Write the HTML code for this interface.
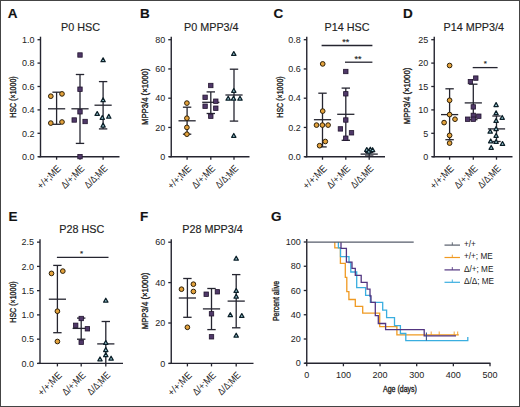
<!DOCTYPE html>
<html><head><meta charset="utf-8"><style>
html,body{margin:0;padding:0;background:#fff;width:520px;height:407px;overflow:hidden;position:relative}
.frame{position:absolute;left:0;top:0;width:518px;height:405px;border:1px solid #444}
</style></head><body>
<svg width="520" height="407" viewBox="0 0 520 407" font-family='"Liberation Sans", sans-serif' style="position:absolute;left:0;top:0"><style>text{stroke:#222;stroke-width:0.15px} text.n{stroke:none} text.yl{stroke-width:0.35px}</style><rect x="0" y="0" width="520" height="407" fill="#fff"/><text x="7.8" y="18.2" font-size="13.5" text-anchor="start" font-weight="bold" fill="#111" >A</text><text x="80.5" y="30.6" font-size="10.8" text-anchor="middle" font-weight="normal" fill="#222" >P0 HSC</text><text class="yl" x="0" y="0" font-size="8.6" text-anchor="middle" fill="#222" transform="translate(16,97) rotate(-90) scale(0.82,1)">HSC (&#215;1000)</text><line x1="40.5" y1="36.69999999999999" x2="40.5" y2="157.2" stroke="#252530" stroke-width="1.4"/><line x1="37.5" y1="156.7" x2="40.5" y2="156.7" stroke="#252530" stroke-width="1.3"/><text x="34.5" y="159.89999999999998" font-size="9" text-anchor="end" font-weight="normal" fill="#222" class="n">0.0</text><line x1="37.5" y1="133.29999999999998" x2="40.5" y2="133.29999999999998" stroke="#252530" stroke-width="1.3"/><text x="34.5" y="136.49999999999997" font-size="9" text-anchor="end" font-weight="normal" fill="#222" class="n">0.2</text><line x1="37.5" y1="109.89999999999999" x2="40.5" y2="109.89999999999999" stroke="#252530" stroke-width="1.3"/><text x="34.5" y="113.1" font-size="9" text-anchor="end" font-weight="normal" fill="#222" class="n">0.4</text><line x1="37.5" y1="86.5" x2="40.5" y2="86.5" stroke="#252530" stroke-width="1.3"/><text x="34.5" y="89.7" font-size="9" text-anchor="end" font-weight="normal" fill="#222" class="n">0.6</text><line x1="37.5" y1="63.099999999999994" x2="40.5" y2="63.099999999999994" stroke="#252530" stroke-width="1.3"/><text x="34.5" y="66.3" font-size="9" text-anchor="end" font-weight="normal" fill="#222" class="n">0.8</text><line x1="37.5" y1="39.69999999999999" x2="40.5" y2="39.69999999999999" stroke="#252530" stroke-width="1.3"/><text x="34.5" y="42.89999999999999" font-size="9" text-anchor="end" font-weight="normal" fill="#222" class="n">1.0</text><line x1="38.5" y1="156.7" x2="119.5" y2="156.7" stroke="#252530" stroke-width="1.4"/><line x1="56.6" y1="156.7" x2="56.6" y2="159.7" stroke="#252530" stroke-width="1.3"/><text class="n" x="0" y="0" font-size="10" text-anchor="end" fill="#222" textLength="29.2" lengthAdjust="spacingAndGlyphs" transform="translate(61.6,169.2) rotate(-45)">+/+;ME</text><line x1="80" y1="156.7" x2="80" y2="159.7" stroke="#252530" stroke-width="1.3"/><text class="n" x="0" y="0" font-size="10" text-anchor="end" fill="#222" textLength="28.4" lengthAdjust="spacingAndGlyphs" transform="translate(85,169.2) rotate(-45)">&#916;/+;ME</text><line x1="103.1" y1="156.7" x2="103.1" y2="159.7" stroke="#252530" stroke-width="1.3"/><text class="n" x="0" y="0" font-size="10" text-anchor="end" fill="#222" textLength="28.0" lengthAdjust="spacingAndGlyphs" transform="translate(108.1,169.2) rotate(-45)">&#916;/&#916;;ME</text><line x1="56.6" y1="92.2" x2="56.6" y2="124.3" stroke="#252530" stroke-width="1.3"/><line x1="52.4" y1="92.2" x2="60.800000000000004" y2="92.2" stroke="#252530" stroke-width="1.3"/><line x1="52.4" y1="124.3" x2="60.800000000000004" y2="124.3" stroke="#252530" stroke-width="1.3"/><line x1="48.0" y1="108.8" x2="65.2" y2="108.8" stroke="#252530" stroke-width="1.3"/><circle cx="50.8" cy="96.2" r="2.35" fill="#e3a23c" stroke="#2e2008" stroke-width="1.0"/><circle cx="62" cy="93.9" r="2.35" fill="#e3a23c" stroke="#2e2008" stroke-width="1.0"/><circle cx="50.8" cy="123.1" r="2.35" fill="#e3a23c" stroke="#2e2008" stroke-width="1.0"/><circle cx="62" cy="122" r="2.35" fill="#e3a23c" stroke="#2e2008" stroke-width="1.0"/><line x1="80" y1="74.5" x2="80" y2="143.4" stroke="#252530" stroke-width="1.3"/><line x1="75.8" y1="74.5" x2="84.2" y2="74.5" stroke="#252530" stroke-width="1.3"/><line x1="75.8" y1="143.4" x2="84.2" y2="143.4" stroke="#252530" stroke-width="1.3"/><line x1="71.4" y1="108.8" x2="88.6" y2="108.8" stroke="#252530" stroke-width="1.3"/><rect x="77.8" y="52.8" width="4.4" height="4.4" fill="#4f3868" stroke="#22142f" stroke-width="0.8"/><rect x="77.8" y="87.0" width="4.4" height="4.4" fill="#4f3868" stroke="#22142f" stroke-width="0.8"/><rect x="77.8" y="109.6" width="4.4" height="4.4" fill="#4f3868" stroke="#22142f" stroke-width="0.8"/><rect x="72.0" y="117.8" width="4.4" height="4.4" fill="#4f3868" stroke="#22142f" stroke-width="0.8"/><rect x="82.89999999999999" y="119.3" width="4.4" height="4.4" fill="#4f3868" stroke="#22142f" stroke-width="0.8"/><rect x="77.8" y="154.4" width="4.4" height="4.4" fill="#4f3868" stroke="#22142f" stroke-width="0.8"/><line x1="103.1" y1="81.6" x2="103.1" y2="128.9" stroke="#252530" stroke-width="1.3"/><line x1="98.89999999999999" y1="81.6" x2="107.3" y2="81.6" stroke="#252530" stroke-width="1.3"/><line x1="98.89999999999999" y1="128.9" x2="107.3" y2="128.9" stroke="#252530" stroke-width="1.3"/><line x1="94.5" y1="105.2" x2="111.69999999999999" y2="105.2" stroke="#252530" stroke-width="1.3"/><path d="M103.1 57.8554L105.25 61.7254L100.94999999999999 61.7254Z" fill="#9fd3df" stroke="#0c1f28" stroke-width="1.25" stroke-linejoin="round"/><path d="M103.1 97.85539999999999L105.25 101.7254L100.94999999999999 101.7254Z" fill="#9fd3df" stroke="#0c1f28" stroke-width="1.25" stroke-linejoin="round"/><path d="M97.2 111.55539999999999L99.35000000000001 115.4254L95.05 115.4254Z" fill="#9fd3df" stroke="#0c1f28" stroke-width="1.25" stroke-linejoin="round"/><path d="M102.3 115.4554L104.45 119.3254L100.14999999999999 119.3254Z" fill="#9fd3df" stroke="#0c1f28" stroke-width="1.25" stroke-linejoin="round"/><path d="M108.8 114.35539999999999L110.95 118.2254L106.64999999999999 118.2254Z" fill="#9fd3df" stroke="#0c1f28" stroke-width="1.25" stroke-linejoin="round"/><path d="M103.1 123.1554L105.25 127.0254L100.94999999999999 127.0254Z" fill="#9fd3df" stroke="#0c1f28" stroke-width="1.25" stroke-linejoin="round"/><text x="140" y="18.2" font-size="13.5" text-anchor="start" font-weight="bold" fill="#111" >B</text><text x="211.3" y="30.6" font-size="10.8" text-anchor="middle" font-weight="normal" fill="#222" >P0 MPP3/4</text><text class="yl" x="0" y="0" font-size="8.6" text-anchor="middle" fill="#222" transform="translate(148,96.8) rotate(-90) scale(0.9,1)">MPP3/4 (&#215;1000)</text><line x1="171.25" y1="36.69999999999999" x2="171.25" y2="157.2" stroke="#252530" stroke-width="1.4"/><line x1="168.25" y1="156.7" x2="171.25" y2="156.7" stroke="#252530" stroke-width="1.3"/><text x="165.25" y="159.89999999999998" font-size="9" text-anchor="end" font-weight="normal" fill="#222" class="n">0</text><line x1="168.25" y1="127.44999999999999" x2="171.25" y2="127.44999999999999" stroke="#252530" stroke-width="1.3"/><text x="165.25" y="130.64999999999998" font-size="9" text-anchor="end" font-weight="normal" fill="#222" class="n">20</text><line x1="168.25" y1="98.19999999999999" x2="171.25" y2="98.19999999999999" stroke="#252530" stroke-width="1.3"/><text x="165.25" y="101.39999999999999" font-size="9" text-anchor="end" font-weight="normal" fill="#222" class="n">40</text><line x1="168.25" y1="68.94999999999999" x2="171.25" y2="68.94999999999999" stroke="#252530" stroke-width="1.3"/><text x="165.25" y="72.14999999999999" font-size="9" text-anchor="end" font-weight="normal" fill="#222" class="n">60</text><line x1="168.25" y1="39.69999999999999" x2="171.25" y2="39.69999999999999" stroke="#252530" stroke-width="1.3"/><text x="165.25" y="42.89999999999999" font-size="9" text-anchor="end" font-weight="normal" fill="#222" class="n">80</text><line x1="169.25" y1="156.7" x2="249.5" y2="156.7" stroke="#252530" stroke-width="1.4"/><line x1="187.1" y1="156.7" x2="187.1" y2="159.7" stroke="#252530" stroke-width="1.3"/><text class="n" x="0" y="0" font-size="10" text-anchor="end" fill="#222" textLength="29.2" lengthAdjust="spacingAndGlyphs" transform="translate(192.1,169.2) rotate(-45)">+/+;ME</text><line x1="210.8" y1="156.7" x2="210.8" y2="159.7" stroke="#252530" stroke-width="1.3"/><text class="n" x="0" y="0" font-size="10" text-anchor="end" fill="#222" textLength="28.4" lengthAdjust="spacingAndGlyphs" transform="translate(215.8,169.2) rotate(-45)">&#916;/+;ME</text><line x1="234" y1="156.7" x2="234" y2="159.7" stroke="#252530" stroke-width="1.3"/><text class="n" x="0" y="0" font-size="10" text-anchor="end" fill="#222" textLength="28.0" lengthAdjust="spacingAndGlyphs" transform="translate(239,169.2) rotate(-45)">&#916;/&#916;;ME</text><line x1="187.1" y1="107.2" x2="187.1" y2="134.2" stroke="#252530" stroke-width="1.3"/><line x1="182.9" y1="107.2" x2="191.29999999999998" y2="107.2" stroke="#252530" stroke-width="1.3"/><line x1="182.9" y1="134.2" x2="191.29999999999998" y2="134.2" stroke="#252530" stroke-width="1.3"/><line x1="178.5" y1="120.8" x2="195.7" y2="120.8" stroke="#252530" stroke-width="1.3"/><circle cx="186.9" cy="103.1" r="2.35" fill="#e3a23c" stroke="#2e2008" stroke-width="1.0"/><circle cx="186.9" cy="118.2" r="2.35" fill="#e3a23c" stroke="#2e2008" stroke-width="1.0"/><circle cx="186.9" cy="127.4" r="2.35" fill="#e3a23c" stroke="#2e2008" stroke-width="1.0"/><circle cx="186.9" cy="134.2" r="2.35" fill="#e3a23c" stroke="#2e2008" stroke-width="1.0"/><line x1="210.8" y1="91.9" x2="210.8" y2="113.5" stroke="#252530" stroke-width="1.3"/><line x1="206.60000000000002" y1="91.9" x2="215.0" y2="91.9" stroke="#252530" stroke-width="1.3"/><line x1="206.60000000000002" y1="113.5" x2="215.0" y2="113.5" stroke="#252530" stroke-width="1.3"/><line x1="202.20000000000002" y1="102.3" x2="219.4" y2="102.3" stroke="#252530" stroke-width="1.3"/><rect x="208.60000000000002" y="83.3" width="4.4" height="4.4" fill="#4f3868" stroke="#22142f" stroke-width="0.8"/><rect x="202.9" y="95.1" width="4.4" height="4.4" fill="#4f3868" stroke="#22142f" stroke-width="0.8"/><rect x="213.60000000000002" y="99.0" width="4.4" height="4.4" fill="#4f3868" stroke="#22142f" stroke-width="0.8"/><rect x="202.9" y="104.0" width="4.4" height="4.4" fill="#4f3868" stroke="#22142f" stroke-width="0.8"/><rect x="213.60000000000002" y="106.0" width="4.4" height="4.4" fill="#4f3868" stroke="#22142f" stroke-width="0.8"/><rect x="208.60000000000002" y="114.0" width="4.4" height="4.4" fill="#4f3868" stroke="#22142f" stroke-width="0.8"/><line x1="234" y1="69.2" x2="234" y2="121.1" stroke="#252530" stroke-width="1.3"/><line x1="229.8" y1="69.2" x2="238.2" y2="69.2" stroke="#252530" stroke-width="1.3"/><line x1="229.8" y1="121.1" x2="238.2" y2="121.1" stroke="#252530" stroke-width="1.3"/><line x1="225.4" y1="95" x2="242.6" y2="95" stroke="#252530" stroke-width="1.3"/><path d="M233.8 51.5554L235.95000000000002 55.425399999999996L231.65 55.425399999999996Z" fill="#9fd3df" stroke="#0c1f28" stroke-width="1.25" stroke-linejoin="round"/><path d="M233.8 88.4554L235.95000000000002 92.3254L231.65 92.3254Z" fill="#9fd3df" stroke="#0c1f28" stroke-width="1.25" stroke-linejoin="round"/><path d="M228.2 96.2554L230.35 100.1254L226.04999999999998 100.1254Z" fill="#9fd3df" stroke="#0c1f28" stroke-width="1.25" stroke-linejoin="round"/><path d="M233.5 96.2554L235.65 100.1254L231.35 100.1254Z" fill="#9fd3df" stroke="#0c1f28" stroke-width="1.25" stroke-linejoin="round"/><path d="M240 96.2554L242.15 100.1254L237.85 100.1254Z" fill="#9fd3df" stroke="#0c1f28" stroke-width="1.25" stroke-linejoin="round"/><path d="M233.8 133.4554L235.95000000000002 137.3254L231.65 137.3254Z" fill="#9fd3df" stroke="#0c1f28" stroke-width="1.25" stroke-linejoin="round"/><text x="273.5" y="18.2" font-size="13.5" text-anchor="start" font-weight="bold" fill="#111" >C</text><text x="347" y="30.6" font-size="10.8" text-anchor="middle" font-weight="normal" fill="#222" >P14 HSC</text><text class="yl" x="0" y="0" font-size="8.6" text-anchor="middle" fill="#222" transform="translate(283.2,97) rotate(-90) scale(0.82,1)">HSC (&#215;1000)</text><line x1="306.75" y1="36.69999999999999" x2="306.75" y2="157.2" stroke="#252530" stroke-width="1.4"/><line x1="303.75" y1="156.7" x2="306.75" y2="156.7" stroke="#252530" stroke-width="1.3"/><text x="300.75" y="159.89999999999998" font-size="9" text-anchor="end" font-weight="normal" fill="#222" class="n">0.0</text><line x1="303.75" y1="127.44999999999999" x2="306.75" y2="127.44999999999999" stroke="#252530" stroke-width="1.3"/><text x="300.75" y="130.64999999999998" font-size="9" text-anchor="end" font-weight="normal" fill="#222" class="n">0.2</text><line x1="303.75" y1="98.19999999999999" x2="306.75" y2="98.19999999999999" stroke="#252530" stroke-width="1.3"/><text x="300.75" y="101.39999999999999" font-size="9" text-anchor="end" font-weight="normal" fill="#222" class="n">0.4</text><line x1="303.75" y1="68.94999999999999" x2="306.75" y2="68.94999999999999" stroke="#252530" stroke-width="1.3"/><text x="300.75" y="72.14999999999999" font-size="9" text-anchor="end" font-weight="normal" fill="#222" class="n">0.6</text><line x1="303.75" y1="39.69999999999999" x2="306.75" y2="39.69999999999999" stroke="#252530" stroke-width="1.3"/><text x="300.75" y="42.89999999999999" font-size="9" text-anchor="end" font-weight="normal" fill="#222" class="n">0.8</text><line x1="304.75" y1="156.7" x2="385" y2="156.7" stroke="#252530" stroke-width="1.4"/><line x1="322.5" y1="156.7" x2="322.5" y2="159.7" stroke="#252530" stroke-width="1.3"/><text class="n" x="0" y="0" font-size="10" text-anchor="end" fill="#222" textLength="29.2" lengthAdjust="spacingAndGlyphs" transform="translate(327.5,169.2) rotate(-45)">+/+;ME</text><line x1="345.8" y1="156.7" x2="345.8" y2="159.7" stroke="#252530" stroke-width="1.3"/><text class="n" x="0" y="0" font-size="10" text-anchor="end" fill="#222" textLength="28.4" lengthAdjust="spacingAndGlyphs" transform="translate(350.8,169.2) rotate(-45)">&#916;/+;ME</text><line x1="369.2" y1="156.7" x2="369.2" y2="159.7" stroke="#252530" stroke-width="1.3"/><text class="n" x="0" y="0" font-size="10" text-anchor="end" fill="#222" textLength="28.0" lengthAdjust="spacingAndGlyphs" transform="translate(374.2,169.2) rotate(-45)">&#916;/&#916;;ME</text><line x1="322.5" y1="93.2" x2="322.5" y2="146.9" stroke="#252530" stroke-width="1.3"/><line x1="318.3" y1="93.2" x2="326.7" y2="93.2" stroke="#252530" stroke-width="1.3"/><line x1="318.3" y1="146.9" x2="326.7" y2="146.9" stroke="#252530" stroke-width="1.3"/><line x1="313.9" y1="119.7" x2="331.1" y2="119.7" stroke="#252530" stroke-width="1.3"/><circle cx="322.7" cy="63.9" r="2.35" fill="#e3a23c" stroke="#2e2008" stroke-width="1.0"/><circle cx="322.7" cy="111.1" r="2.35" fill="#e3a23c" stroke="#2e2008" stroke-width="1.0"/><circle cx="316.5" cy="125.1" r="2.35" fill="#e3a23c" stroke="#2e2008" stroke-width="1.0"/><circle cx="322.4" cy="125.1" r="2.35" fill="#e3a23c" stroke="#2e2008" stroke-width="1.0"/><circle cx="328.1" cy="125.1" r="2.35" fill="#e3a23c" stroke="#2e2008" stroke-width="1.0"/><circle cx="325.3" cy="141.5" r="2.35" fill="#e3a23c" stroke="#2e2008" stroke-width="1.0"/><circle cx="319.6" cy="145.7" r="2.35" fill="#e3a23c" stroke="#2e2008" stroke-width="1.0"/><line x1="345.8" y1="88.1" x2="345.8" y2="140.3" stroke="#252530" stroke-width="1.3"/><line x1="341.6" y1="88.1" x2="350.0" y2="88.1" stroke="#252530" stroke-width="1.3"/><line x1="341.6" y1="140.3" x2="350.0" y2="140.3" stroke="#252530" stroke-width="1.3"/><line x1="337.2" y1="114.3" x2="354.40000000000003" y2="114.3" stroke="#252530" stroke-width="1.3"/><rect x="343.6" y="69.3" width="4.4" height="4.4" fill="#4f3868" stroke="#22142f" stroke-width="0.8"/><rect x="343.6" y="91.6" width="4.4" height="4.4" fill="#4f3868" stroke="#22142f" stroke-width="0.8"/><rect x="343.6" y="117.8" width="4.4" height="4.4" fill="#4f3868" stroke="#22142f" stroke-width="0.8"/><rect x="338.2" y="126.7" width="4.4" height="4.4" fill="#4f3868" stroke="#22142f" stroke-width="0.8"/><rect x="349.3" y="130.60000000000002" width="4.4" height="4.4" fill="#4f3868" stroke="#22142f" stroke-width="0.8"/><rect x="343.6" y="136.0" width="4.4" height="4.4" fill="#4f3868" stroke="#22142f" stroke-width="0.8"/><line x1="369.2" y1="152.5" x2="369.2" y2="156" stroke="#252530" stroke-width="1.3"/><line x1="365.0" y1="152.5" x2="373.4" y2="152.5" stroke="#252530" stroke-width="1.3"/><line x1="365.0" y1="156" x2="373.4" y2="156" stroke="#252530" stroke-width="1.3"/><line x1="360.59999999999997" y1="154.1" x2="377.8" y2="154.1" stroke="#252530" stroke-width="1.3"/><path d="M366.8 147.55540000000002L368.95 151.42540000000002L364.65000000000003 151.42540000000002Z" fill="#9fd3df" stroke="#0c1f28" stroke-width="1.25" stroke-linejoin="round"/><path d="M370.3 147.2554L372.45 151.1254L368.15000000000003 151.1254Z" fill="#9fd3df" stroke="#0c1f28" stroke-width="1.25" stroke-linejoin="round"/><path d="M372.6 147.7554L374.75 151.6254L370.45000000000005 151.6254Z" fill="#9fd3df" stroke="#0c1f28" stroke-width="1.25" stroke-linejoin="round"/><path d="M368.8 149.2554L370.95 153.1254L366.65000000000003 153.1254Z" fill="#9fd3df" stroke="#0c1f28" stroke-width="1.25" stroke-linejoin="round"/><text x="345.8" y="45" font-size="9" text-anchor="middle" font-weight="normal" fill="#222" >**</text><line x1="321.6" y1="45.5" x2="372.4" y2="45.5" stroke="#252530" stroke-width="1.3"/><text x="358.1" y="61.8" font-size="9" text-anchor="middle" font-weight="normal" fill="#222" >**</text><line x1="345" y1="62.2" x2="372.4" y2="62.2" stroke="#252530" stroke-width="1.3"/><text x="403" y="18.2" font-size="13.5" text-anchor="start" font-weight="bold" fill="#111" >D</text><text x="473.75" y="30.6" font-size="10.8" text-anchor="middle" font-weight="normal" fill="#222" >P14 MPP3/4</text><text class="yl" x="0" y="0" font-size="8.6" text-anchor="middle" fill="#222" transform="translate(410,96) rotate(-90) scale(0.9,1)">MPP3/4 (&#215;1000)</text><line x1="434.25" y1="36.69999999999999" x2="434.25" y2="157.2" stroke="#252530" stroke-width="1.4"/><line x1="431.25" y1="156.7" x2="434.25" y2="156.7" stroke="#252530" stroke-width="1.3"/><text x="428.25" y="159.89999999999998" font-size="9" text-anchor="end" font-weight="normal" fill="#222" class="n">0</text><line x1="431.25" y1="133.29999999999998" x2="434.25" y2="133.29999999999998" stroke="#252530" stroke-width="1.3"/><text x="428.25" y="136.49999999999997" font-size="9" text-anchor="end" font-weight="normal" fill="#222" class="n">5</text><line x1="431.25" y1="109.89999999999999" x2="434.25" y2="109.89999999999999" stroke="#252530" stroke-width="1.3"/><text x="428.25" y="113.1" font-size="9" text-anchor="end" font-weight="normal" fill="#222" class="n">10</text><line x1="431.25" y1="86.5" x2="434.25" y2="86.5" stroke="#252530" stroke-width="1.3"/><text x="428.25" y="89.7" font-size="9" text-anchor="end" font-weight="normal" fill="#222" class="n">15</text><line x1="431.25" y1="63.099999999999994" x2="434.25" y2="63.099999999999994" stroke="#252530" stroke-width="1.3"/><text x="428.25" y="66.3" font-size="9" text-anchor="end" font-weight="normal" fill="#222" class="n">20</text><line x1="431.25" y1="39.69999999999999" x2="434.25" y2="39.69999999999999" stroke="#252530" stroke-width="1.3"/><text x="428.25" y="42.89999999999999" font-size="9" text-anchor="end" font-weight="normal" fill="#222" class="n">25</text><line x1="432.25" y1="156.7" x2="512.5" y2="156.7" stroke="#252530" stroke-width="1.4"/><line x1="449.6" y1="156.7" x2="449.6" y2="159.7" stroke="#252530" stroke-width="1.3"/><text class="n" x="0" y="0" font-size="10" text-anchor="end" fill="#222" textLength="29.2" lengthAdjust="spacingAndGlyphs" transform="translate(454.6,169.2) rotate(-45)">+/+;ME</text><line x1="473.3" y1="156.7" x2="473.3" y2="159.7" stroke="#252530" stroke-width="1.3"/><text class="n" x="0" y="0" font-size="10" text-anchor="end" fill="#222" textLength="28.4" lengthAdjust="spacingAndGlyphs" transform="translate(478.3,169.2) rotate(-45)">&#916;/+;ME</text><line x1="496.5" y1="156.7" x2="496.5" y2="159.7" stroke="#252530" stroke-width="1.3"/><text class="n" x="0" y="0" font-size="10" text-anchor="end" fill="#222" textLength="28.0" lengthAdjust="spacingAndGlyphs" transform="translate(501.5,169.2) rotate(-45)">&#916;/&#916;;ME</text><line x1="449.6" y1="88.8" x2="449.6" y2="139.7" stroke="#252530" stroke-width="1.3"/><line x1="445.40000000000003" y1="88.8" x2="453.8" y2="88.8" stroke="#252530" stroke-width="1.3"/><line x1="445.40000000000003" y1="139.7" x2="453.8" y2="139.7" stroke="#252530" stroke-width="1.3"/><line x1="441.0" y1="114.6" x2="458.20000000000005" y2="114.6" stroke="#252530" stroke-width="1.3"/><circle cx="449.6" cy="65.5" r="2.35" fill="#e3a23c" stroke="#2e2008" stroke-width="1.0"/><circle cx="449.6" cy="100.3" r="2.35" fill="#e3a23c" stroke="#2e2008" stroke-width="1.0"/><circle cx="449.6" cy="114.6" r="2.35" fill="#e3a23c" stroke="#2e2008" stroke-width="1.0"/><circle cx="455" cy="119.2" r="2.35" fill="#e3a23c" stroke="#2e2008" stroke-width="1.0"/><circle cx="444.1" cy="122.6" r="2.35" fill="#e3a23c" stroke="#2e2008" stroke-width="1.0"/><circle cx="449.6" cy="135.4" r="2.35" fill="#e3a23c" stroke="#2e2008" stroke-width="1.0"/><circle cx="449.6" cy="143.1" r="2.35" fill="#e3a23c" stroke="#2e2008" stroke-width="1.0"/><line x1="473.3" y1="84.2" x2="473.3" y2="119.7" stroke="#252530" stroke-width="1.3"/><line x1="469.1" y1="84.2" x2="477.5" y2="84.2" stroke="#252530" stroke-width="1.3"/><line x1="469.1" y1="119.7" x2="477.5" y2="119.7" stroke="#252530" stroke-width="1.3"/><line x1="464.7" y1="102.9" x2="481.90000000000003" y2="102.9" stroke="#252530" stroke-width="1.3"/><rect x="473.6" y="75.89999999999999" width="4.4" height="4.4" fill="#4f3868" stroke="#22142f" stroke-width="0.8"/><rect x="468.2" y="79.39999999999999" width="4.4" height="4.4" fill="#4f3868" stroke="#22142f" stroke-width="0.8"/><rect x="471.1" y="104.7" width="4.4" height="4.4" fill="#4f3868" stroke="#22142f" stroke-width="0.8"/><rect x="471.1" y="113.2" width="4.4" height="4.4" fill="#4f3868" stroke="#22142f" stroke-width="0.8"/><rect x="476.6" y="114.0" width="4.4" height="4.4" fill="#4f3868" stroke="#22142f" stroke-width="0.8"/><rect x="465.40000000000003" y="117.0" width="4.4" height="4.4" fill="#4f3868" stroke="#22142f" stroke-width="0.8"/><rect x="471.1" y="117.0" width="4.4" height="4.4" fill="#4f3868" stroke="#22142f" stroke-width="0.8"/><line x1="496.5" y1="116" x2="496.5" y2="141.5" stroke="#252530" stroke-width="1.3"/><line x1="492.3" y1="116" x2="500.7" y2="116" stroke="#252530" stroke-width="1.3"/><line x1="492.3" y1="141.5" x2="500.7" y2="141.5" stroke="#252530" stroke-width="1.3"/><line x1="487.9" y1="128.9" x2="505.1" y2="128.9" stroke="#252530" stroke-width="1.3"/><path d="M496.1 102.6554L498.25 106.5254L493.95000000000005 106.5254Z" fill="#9fd3df" stroke="#0c1f28" stroke-width="1.25" stroke-linejoin="round"/><path d="M496.1 110.85539999999999L498.25 114.7254L493.95000000000005 114.7254Z" fill="#9fd3df" stroke="#0c1f28" stroke-width="1.25" stroke-linejoin="round"/><path d="M502.2 115.4554L504.34999999999997 119.3254L500.05 119.3254Z" fill="#9fd3df" stroke="#0c1f28" stroke-width="1.25" stroke-linejoin="round"/><path d="M496.1 118.55539999999999L498.25 122.4254L493.95000000000005 122.4254Z" fill="#9fd3df" stroke="#0c1f28" stroke-width="1.25" stroke-linejoin="round"/><path d="M496.1 126.6554L498.25 130.52540000000002L493.95000000000005 130.52540000000002Z" fill="#9fd3df" stroke="#0c1f28" stroke-width="1.25" stroke-linejoin="round"/><path d="M490.2 129.2554L492.34999999999997 133.1254L488.05 133.1254Z" fill="#9fd3df" stroke="#0c1f28" stroke-width="1.25" stroke-linejoin="round"/><path d="M496.1 133.4554L498.25 137.3254L493.95000000000005 137.3254Z" fill="#9fd3df" stroke="#0c1f28" stroke-width="1.25" stroke-linejoin="round"/><path d="M490.7 138.9554L492.84999999999997 142.8254L488.55 142.8254Z" fill="#9fd3df" stroke="#0c1f28" stroke-width="1.25" stroke-linejoin="round"/><path d="M496.1 139.55540000000002L498.25 143.42540000000002L493.95000000000005 143.42540000000002Z" fill="#9fd3df" stroke="#0c1f28" stroke-width="1.25" stroke-linejoin="round"/><path d="M502.5 141.55540000000002L504.65 145.42540000000002L500.35 145.42540000000002Z" fill="#9fd3df" stroke="#0c1f28" stroke-width="1.25" stroke-linejoin="round"/><path d="M491.2 145.4554L493.34999999999997 149.3254L489.05 149.3254Z" fill="#9fd3df" stroke="#0c1f28" stroke-width="1.25" stroke-linejoin="round"/><text x="485.3" y="66.3" font-size="8" text-anchor="middle" font-weight="normal" fill="#222" >*</text><line x1="472.7" y1="67.6" x2="497.6" y2="67.6" stroke="#252530" stroke-width="1.3"/><text x="8.5" y="220.5" font-size="13.5" text-anchor="start" font-weight="bold" fill="#111" >E</text><text x="81.75" y="232.5" font-size="10.8" text-anchor="middle" font-weight="normal" fill="#222" >P28 HSC</text><text class="yl" x="0" y="0" font-size="8.6" text-anchor="middle" fill="#222" transform="translate(16,302) rotate(-90) scale(0.82,1)">HSC (&#215;1000)</text><line x1="40" y1="239.14999999999998" x2="40" y2="363.9" stroke="#252530" stroke-width="1.4"/><line x1="37" y1="363.4" x2="40" y2="363.4" stroke="#252530" stroke-width="1.3"/><text x="34" y="366.59999999999997" font-size="9" text-anchor="end" font-weight="normal" fill="#222" class="n">0.0</text><line x1="37" y1="339.15" x2="40" y2="339.15" stroke="#252530" stroke-width="1.3"/><text x="34" y="342.34999999999997" font-size="9" text-anchor="end" font-weight="normal" fill="#222" class="n">0.5</text><line x1="37" y1="314.9" x2="40" y2="314.9" stroke="#252530" stroke-width="1.3"/><text x="34" y="318.09999999999997" font-size="9" text-anchor="end" font-weight="normal" fill="#222" class="n">1.0</text><line x1="37" y1="290.65" x2="40" y2="290.65" stroke="#252530" stroke-width="1.3"/><text x="34" y="293.84999999999997" font-size="9" text-anchor="end" font-weight="normal" fill="#222" class="n">1.5</text><line x1="37" y1="266.4" x2="40" y2="266.4" stroke="#252530" stroke-width="1.3"/><text x="34" y="269.59999999999997" font-size="9" text-anchor="end" font-weight="normal" fill="#222" class="n">2.0</text><line x1="37" y1="242.14999999999998" x2="40" y2="242.14999999999998" stroke="#252530" stroke-width="1.3"/><text x="34" y="245.34999999999997" font-size="9" text-anchor="end" font-weight="normal" fill="#222" class="n">2.5</text><line x1="38" y1="363.4" x2="123" y2="363.4" stroke="#252530" stroke-width="1.4"/><line x1="57.4" y1="363.4" x2="57.4" y2="366.4" stroke="#252530" stroke-width="1.3"/><text class="n" x="0" y="0" font-size="10" text-anchor="end" fill="#222" textLength="29.2" lengthAdjust="spacingAndGlyphs" transform="translate(62.4,375.9) rotate(-45)">+/+;ME</text><line x1="81.2" y1="363.4" x2="81.2" y2="366.4" stroke="#252530" stroke-width="1.3"/><text class="n" x="0" y="0" font-size="10" text-anchor="end" fill="#222" textLength="28.4" lengthAdjust="spacingAndGlyphs" transform="translate(86.2,375.9) rotate(-45)">&#916;/+;ME</text><line x1="105.8" y1="363.4" x2="105.8" y2="366.4" stroke="#252530" stroke-width="1.3"/><text class="n" x="0" y="0" font-size="10" text-anchor="end" fill="#222" textLength="28.0" lengthAdjust="spacingAndGlyphs" transform="translate(110.8,375.9) rotate(-45)">&#916;/&#916;;ME</text><line x1="57.4" y1="265.4" x2="57.4" y2="332.7" stroke="#252530" stroke-width="1.3"/><line x1="53.199999999999996" y1="265.4" x2="61.6" y2="265.4" stroke="#252530" stroke-width="1.3"/><line x1="53.199999999999996" y1="332.7" x2="61.6" y2="332.7" stroke="#252530" stroke-width="1.3"/><line x1="48.8" y1="299.2" x2="66.0" y2="299.2" stroke="#252530" stroke-width="1.3"/><circle cx="51.5" cy="273.4" r="2.35" fill="#e3a23c" stroke="#2e2008" stroke-width="1.0"/><circle cx="62.8" cy="271.1" r="2.35" fill="#e3a23c" stroke="#2e2008" stroke-width="1.0"/><circle cx="57.4" cy="311.2" r="2.35" fill="#e3a23c" stroke="#2e2008" stroke-width="1.0"/><circle cx="57.4" cy="341.5" r="2.35" fill="#e3a23c" stroke="#2e2008" stroke-width="1.0"/><line x1="81.2" y1="318.1" x2="81.2" y2="339.2" stroke="#252530" stroke-width="1.3"/><line x1="77.0" y1="318.1" x2="85.4" y2="318.1" stroke="#252530" stroke-width="1.3"/><line x1="77.0" y1="339.2" x2="85.4" y2="339.2" stroke="#252530" stroke-width="1.3"/><line x1="72.60000000000001" y1="328.4" x2="89.8" y2="328.4" stroke="#252530" stroke-width="1.3"/><rect x="79.0" y="316.3" width="4.4" height="4.4" fill="#4f3868" stroke="#22142f" stroke-width="0.8"/><rect x="73.5" y="323.1" width="4.4" height="4.4" fill="#4f3868" stroke="#22142f" stroke-width="0.8"/><rect x="85.2" y="326.6" width="4.4" height="4.4" fill="#4f3868" stroke="#22142f" stroke-width="0.8"/><rect x="79.0" y="340.0" width="4.4" height="4.4" fill="#4f3868" stroke="#22142f" stroke-width="0.8"/><line x1="105.8" y1="321.5" x2="105.8" y2="363.4" stroke="#252530" stroke-width="1.3"/><line x1="101.6" y1="321.5" x2="110.0" y2="321.5" stroke="#252530" stroke-width="1.3"/><line x1="97.2" y1="343.9" x2="114.39999999999999" y2="343.9" stroke="#252530" stroke-width="1.3"/><path d="M105.8 298.2554L107.95 302.1254L103.64999999999999 302.1254Z" fill="#9fd3df" stroke="#0c1f28" stroke-width="1.25" stroke-linejoin="round"/><path d="M105.8 340.4554L107.95 344.3254L103.64999999999999 344.3254Z" fill="#9fd3df" stroke="#0c1f28" stroke-width="1.25" stroke-linejoin="round"/><path d="M105.8 347.6554L107.95 351.5254L103.64999999999999 351.5254Z" fill="#9fd3df" stroke="#0c1f28" stroke-width="1.25" stroke-linejoin="round"/><path d="M105.8 352.7554L107.95 356.6254L103.64999999999999 356.6254Z" fill="#9fd3df" stroke="#0c1f28" stroke-width="1.25" stroke-linejoin="round"/><path d="M100 356.9554L102.15 360.8254L97.85 360.8254Z" fill="#9fd3df" stroke="#0c1f28" stroke-width="1.25" stroke-linejoin="round"/><path d="M111.1 356.2554L113.25 360.1254L108.94999999999999 360.1254Z" fill="#9fd3df" stroke="#0c1f28" stroke-width="1.25" stroke-linejoin="round"/><text x="81.5" y="256" font-size="8" text-anchor="middle" font-weight="normal" fill="#222" >*</text><line x1="56.9" y1="257.4" x2="108.5" y2="257.4" stroke="#252530" stroke-width="1.3"/><text x="140" y="220.5" font-size="13.5" text-anchor="start" font-weight="bold" fill="#111" >F</text><text x="212.5" y="232.5" font-size="10.8" text-anchor="middle" font-weight="normal" fill="#222" >P28 MPP3/4</text><text class="yl" x="0" y="0" font-size="8.6" text-anchor="middle" fill="#222" transform="translate(148,301) rotate(-90) scale(0.9,1)">MPP3/4 (&#215;1000)</text><line x1="171.25" y1="239.2" x2="171.25" y2="363.9" stroke="#252530" stroke-width="1.4"/><line x1="168.25" y1="363.4" x2="171.25" y2="363.4" stroke="#252530" stroke-width="1.3"/><text x="165.25" y="366.59999999999997" font-size="9" text-anchor="end" font-weight="normal" fill="#222" class="n">0</text><line x1="168.25" y1="323.0" x2="171.25" y2="323.0" stroke="#252530" stroke-width="1.3"/><text x="165.25" y="326.2" font-size="9" text-anchor="end" font-weight="normal" fill="#222" class="n">20</text><line x1="168.25" y1="282.59999999999997" x2="171.25" y2="282.59999999999997" stroke="#252530" stroke-width="1.3"/><text x="165.25" y="285.79999999999995" font-size="9" text-anchor="end" font-weight="normal" fill="#222" class="n">40</text><line x1="168.25" y1="242.2" x2="171.25" y2="242.2" stroke="#252530" stroke-width="1.3"/><text x="165.25" y="245.39999999999998" font-size="9" text-anchor="end" font-weight="normal" fill="#222" class="n">60</text><line x1="169.25" y1="363.4" x2="253.5" y2="363.4" stroke="#252530" stroke-width="1.4"/><line x1="187.4" y1="363.4" x2="187.4" y2="366.4" stroke="#252530" stroke-width="1.3"/><text class="n" x="0" y="0" font-size="10" text-anchor="end" fill="#222" textLength="29.2" lengthAdjust="spacingAndGlyphs" transform="translate(192.4,375.9) rotate(-45)">+/+;ME</text><line x1="211.5" y1="363.4" x2="211.5" y2="366.4" stroke="#252530" stroke-width="1.3"/><text class="n" x="0" y="0" font-size="10" text-anchor="end" fill="#222" textLength="28.4" lengthAdjust="spacingAndGlyphs" transform="translate(216.5,375.9) rotate(-45)">&#916;/+;ME</text><line x1="236.2" y1="363.4" x2="236.2" y2="366.4" stroke="#252530" stroke-width="1.3"/><text class="n" x="0" y="0" font-size="10" text-anchor="end" fill="#222" textLength="28.0" lengthAdjust="spacingAndGlyphs" transform="translate(241.2,375.9) rotate(-45)">&#916;/&#916;;ME</text><line x1="187.4" y1="278.5" x2="187.4" y2="317.3" stroke="#252530" stroke-width="1.3"/><line x1="183.20000000000002" y1="278.5" x2="191.6" y2="278.5" stroke="#252530" stroke-width="1.3"/><line x1="183.20000000000002" y1="317.3" x2="191.6" y2="317.3" stroke="#252530" stroke-width="1.3"/><line x1="178.8" y1="298" x2="196.0" y2="298" stroke="#252530" stroke-width="1.3"/><circle cx="181.5" cy="289.2" r="2.35" fill="#e3a23c" stroke="#2e2008" stroke-width="1.0"/><circle cx="193.4" cy="284.2" r="2.35" fill="#e3a23c" stroke="#2e2008" stroke-width="1.0"/><circle cx="193.4" cy="291.5" r="2.35" fill="#e3a23c" stroke="#2e2008" stroke-width="1.0"/><circle cx="187.4" cy="327.3" r="2.35" fill="#e3a23c" stroke="#2e2008" stroke-width="1.0"/><line x1="211.5" y1="288.5" x2="211.5" y2="329.6" stroke="#252530" stroke-width="1.3"/><line x1="207.3" y1="288.5" x2="215.7" y2="288.5" stroke="#252530" stroke-width="1.3"/><line x1="207.3" y1="329.6" x2="215.7" y2="329.6" stroke="#252530" stroke-width="1.3"/><line x1="202.9" y1="308.9" x2="220.1" y2="308.9" stroke="#252530" stroke-width="1.3"/><rect x="204.0" y="292.0" width="4.4" height="4.4" fill="#4f3868" stroke="#22142f" stroke-width="0.8"/><rect x="215.20000000000002" y="289.6" width="4.4" height="4.4" fill="#4f3868" stroke="#22142f" stroke-width="0.8"/><rect x="209.3" y="311.6" width="4.4" height="4.4" fill="#4f3868" stroke="#22142f" stroke-width="0.8"/><rect x="209.3" y="334.6" width="4.4" height="4.4" fill="#4f3868" stroke="#22142f" stroke-width="0.8"/><line x1="236.2" y1="274.6" x2="236.2" y2="327.8" stroke="#252530" stroke-width="1.3"/><line x1="232.0" y1="274.6" x2="240.39999999999998" y2="274.6" stroke="#252530" stroke-width="1.3"/><line x1="232.0" y1="327.8" x2="240.39999999999998" y2="327.8" stroke="#252530" stroke-width="1.3"/><line x1="227.6" y1="301.1" x2="244.79999999999998" y2="301.1" stroke="#252530" stroke-width="1.3"/><path d="M236.2 256.2554L238.35 260.1254L234.04999999999998 260.1254Z" fill="#9fd3df" stroke="#0c1f28" stroke-width="1.25" stroke-linejoin="round"/><path d="M236.2 288.5554L238.35 292.4254L234.04999999999998 292.4254Z" fill="#9fd3df" stroke="#0c1f28" stroke-width="1.25" stroke-linejoin="round"/><path d="M236.2 294.2554L238.35 298.1254L234.04999999999998 298.1254Z" fill="#9fd3df" stroke="#0c1f28" stroke-width="1.25" stroke-linejoin="round"/><path d="M230.3 312.7554L232.45000000000002 316.6254L228.15 316.6254Z" fill="#9fd3df" stroke="#0c1f28" stroke-width="1.25" stroke-linejoin="round"/><path d="M241.8 313.5554L243.95000000000002 317.4254L239.65 317.4254Z" fill="#9fd3df" stroke="#0c1f28" stroke-width="1.25" stroke-linejoin="round"/><path d="M236.2 333.2554L238.35 337.1254L234.04999999999998 337.1254Z" fill="#9fd3df" stroke="#0c1f28" stroke-width="1.25" stroke-linejoin="round"/><text x="271" y="220.5" font-size="13.5" text-anchor="start" font-weight="bold" fill="#111" >G</text><line x1="306.75" y1="239" x2="306.75" y2="363.75" stroke="#252530" stroke-width="1.4"/><line x1="303.75" y1="363.25" x2="306.75" y2="363.25" stroke="#252530" stroke-width="1.3"/><text x="300.75" y="366.45" font-size="9" text-anchor="end" font-weight="normal" fill="#222" class="n">0</text><line x1="303.75" y1="339.0" x2="306.75" y2="339.0" stroke="#252530" stroke-width="1.3"/><text x="300.75" y="342.2" font-size="9" text-anchor="end" font-weight="normal" fill="#222" class="n">20</text><line x1="303.75" y1="314.75" x2="306.75" y2="314.75" stroke="#252530" stroke-width="1.3"/><text x="300.75" y="317.95" font-size="9" text-anchor="end" font-weight="normal" fill="#222" class="n">40</text><line x1="303.75" y1="290.5" x2="306.75" y2="290.5" stroke="#252530" stroke-width="1.3"/><text x="300.75" y="293.7" font-size="9" text-anchor="end" font-weight="normal" fill="#222" class="n">60</text><line x1="303.75" y1="266.25" x2="306.75" y2="266.25" stroke="#252530" stroke-width="1.3"/><text x="300.75" y="269.45" font-size="9" text-anchor="end" font-weight="normal" fill="#222" class="n">80</text><line x1="303.75" y1="242.0" x2="306.75" y2="242.0" stroke="#252530" stroke-width="1.3"/><text x="300.75" y="245.2" font-size="9" text-anchor="end" font-weight="normal" fill="#222" class="n">100</text><line x1="304.75" y1="363.25" x2="490.5" y2="363.25" stroke="#252530" stroke-width="1.4"/><line x1="306.75" y1="363.25" x2="306.75" y2="366.25" stroke="#252530" stroke-width="1.3"/><text x="306.75" y="377.6" font-size="9" text-anchor="middle" font-weight="normal" fill="#222" class="n">0</text><line x1="343.4" y1="363.25" x2="343.4" y2="366.25" stroke="#252530" stroke-width="1.3"/><text x="343.4" y="377.6" font-size="9" text-anchor="middle" font-weight="normal" fill="#222" class="n">100</text><line x1="380.05" y1="363.25" x2="380.05" y2="366.25" stroke="#252530" stroke-width="1.3"/><text x="380.05" y="377.6" font-size="9" text-anchor="middle" font-weight="normal" fill="#222" class="n">200</text><line x1="416.7" y1="363.25" x2="416.7" y2="366.25" stroke="#252530" stroke-width="1.3"/><text x="416.7" y="377.6" font-size="9" text-anchor="middle" font-weight="normal" fill="#222" class="n">300</text><line x1="453.35" y1="363.25" x2="453.35" y2="366.25" stroke="#252530" stroke-width="1.3"/><text x="453.35" y="377.6" font-size="9" text-anchor="middle" font-weight="normal" fill="#222" class="n">400</text><line x1="490.0" y1="363.25" x2="490.0" y2="366.25" stroke="#252530" stroke-width="1.3"/><text x="490.0" y="377.6" font-size="9" text-anchor="middle" font-weight="normal" fill="#222" class="n">500</text><text class="yl" x="0" y="0" font-size="9" text-anchor="middle" fill="#222" transform="translate(278.8,301) rotate(-90) scale(0.77,1)">Percent alive</text><text class="yl" x="0" y="0" font-size="9" text-anchor="middle" fill="#222" transform="translate(400,391.5) scale(0.78,1)">Age (days)</text><path d="M334.8 242.1 L334.8 242.1 L334.8 247.8 L340.4 247.8 L340.4 263.3 L345.3 263.3 L345.3 277.3 L346.8 277.3 L346.8 291.6 L348.9 291.6 L348.9 299.5 L355.3 299.5 L355.3 306.3 L362.7 306.3 L362.7 313.2 L379.7 313.2 L379.7 326.7 L396.9 326.7 L396.9 334.9 L458.8 334.9" fill="none" stroke="#f09a22" stroke-width="1.3" stroke-linejoin="miter"/><line x1="431.2" y1="331.5" x2="431.2" y2="335.1" stroke="#f09a22" stroke-width="0.9"/><line x1="439.2" y1="331.5" x2="439.2" y2="335.1" stroke="#f09a22" stroke-width="0.9"/><line x1="454.2" y1="331.5" x2="454.2" y2="335.1" stroke="#f09a22" stroke-width="0.9"/><line x1="457.7" y1="331.5" x2="457.7" y2="335.1" stroke="#f09a22" stroke-width="0.9"/><path d="M338.4 242.1 L338.4 242.1 L338.4 247.8 L340.5 247.8 L340.5 256.6 L349 256.6 L349 262.5 L350.8 262.5 L350.8 272 L356.7 272 L356.7 287.7 L365.6 287.7 L365.6 295.3 L370.4 295.3 L370.4 302.4 L382.7 302.4 L382.7 310.2 L386.6 310.2 L386.6 317.6 L394.5 317.6 L394.5 325.7 L400.4 325.7 L400.4 333.5 L405.8 333.5 L405.8 340.6 L467.8 340.6 L467.8 337" fill="none" stroke="#3aaee0" stroke-width="1.3" stroke-linejoin="miter"/><path d="M341 242.1 L341 242.1 L341 248.3 L346.4 248.3 L346.4 262.2 L352 262.2 L352 268.4 L355.3 268.4 L355.3 275.4 L361.2 275.4 L361.2 282.3 L367.1 282.3 L367.1 289.2 L370 289.2 L370 296 L371 296 L371 302.4 L375.3 302.4 L375.3 315.6 L378.3 315.6 L378.3 323.5 L385.6 323.5 L385.6 329.6 L424.2 329.6 L424.2 335.9 L456 335.9" fill="none" stroke="#523580" stroke-width="1.3" stroke-linejoin="miter"/><line x1="426.4" y1="332.5" x2="426.4" y2="340.5" stroke="#3a4f8a" stroke-width="1.1"/><path d="M306.75 242.1 L413.7 242.1" fill="none" stroke="#565d6b" stroke-width="1.4" stroke-linejoin="miter"/><line x1="444.5" y1="245.1" x2="460" y2="245.1" stroke="#565d6b" stroke-width="1.2"/><line x1="452.3" y1="242.29999999999998" x2="452.3" y2="245.1" stroke="#565d6b" stroke-width="0.9"/><text x="464" y="246.7" font-size="8.2" text-anchor="start" font-weight="normal" fill="#222" class="n">+/+</text><line x1="444.5" y1="257.5" x2="460" y2="257.5" stroke="#f09a22" stroke-width="1.2"/><line x1="452.3" y1="254.7" x2="452.3" y2="257.5" stroke="#f09a22" stroke-width="0.9"/><text x="464" y="259.1" font-size="8.2" text-anchor="start" font-weight="normal" fill="#222" class="n">+/+; ME</text><line x1="444.5" y1="269.9" x2="460" y2="269.9" stroke="#523580" stroke-width="1.2"/><line x1="452.3" y1="267.09999999999997" x2="452.3" y2="269.9" stroke="#523580" stroke-width="0.9"/><text x="464" y="271.5" font-size="8.2" text-anchor="start" font-weight="normal" fill="#222" class="n">&#916;/+; ME</text><line x1="444.5" y1="282.3" x2="460" y2="282.3" stroke="#3aaee0" stroke-width="1.2"/><line x1="452.3" y1="279.5" x2="452.3" y2="282.3" stroke="#3aaee0" stroke-width="0.9"/><text x="464" y="283.90000000000003" font-size="8.2" text-anchor="start" font-weight="normal" fill="#222" class="n">&#916;/&#916;; ME</text></svg>
<div class="frame"></div>
</body></html>
